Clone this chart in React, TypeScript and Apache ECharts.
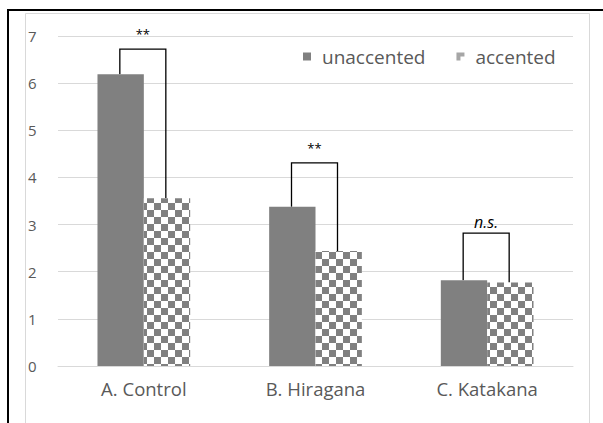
import React, { useEffect, useRef } from "react";
import * as echarts from "echarts";

const categories = ["A. Control", "B. Hiragana", "C. Katakana"];
const unaccented = [6.19, 3.38, 1.82];
const accented = [3.56, 2.44, 1.77];
const bracketTops = [6.72, 4.31, 2.82];
const bracketLabels = ["**", "**", "n.s."];
const yTicks = [0, 1, 2, 3, 4, 5, 6, 7];

const FONT = "Open Sans";
const TEXT = "#595959";
const GRAY = "#808080";

export default function App() {
  const ref = useRef<HTMLDivElement>(null);
  useEffect(() => {
    if (!ref.current) return;
    const chart = echarts.init(ref.current, undefined, { renderer: "svg" });
    const checker = {
      symbol: "rect",
      symbolSize: 1,
      color: GRAY,
      dashArrayX: [[6.5, 6.5], [0, 6.5, 6.5, 0]],
      dashArrayY: [6.5, 0],
      rotation: 0,
    };
    chart.setOption({
      animation: false,
      backgroundColor: "#fff",
      textStyle: { fontFamily: FONT },
      graphic: [
        {
          type: "rect",
          shape: { x: 25.5, y: 13.5, width: 564, height: 420 },
          style: { fill: "none", stroke: "#d9d9d9", lineWidth: 1 },
          silent: true,
        },
        {
          type: "line",
          shape: { x1: 8, y1: 10, x2: 603, y2: 10 },
          style: { stroke: "#000", lineWidth: 2 },
        },
        {
          type: "line",
          shape: { x1: 8, y1: 9, x2: 8, y2: 423 },
          style: { stroke: "#000", lineWidth: 2 },
        },
      ],
      legend: {
        data: [
          { name: "unaccented", icon: "rect" },
          {
            name: "accented",
            icon: "path://M4,0h4v4h-4zM0,4h4v4h-4zM0,0h4v4h-4z",
            itemStyle: { color: "#a6a6a6", decal: "none" },
          },
        ],
        left: 298,
        top: 42,
        itemWidth: 8,
        itemHeight: 8,
        itemGap: 31,
        textStyle: {
          color: TEXT,
          fontSize: 19,
          fontFamily: FONT,
          padding: [0, 0, 0, 6],
        },
      },
      grid: { left: 58, right: 30, top: 36, bottom: 57, containLabel: false },
      xAxis: {
        type: "category",
        data: categories,
        axisLine: { lineStyle: { color: "#d9d9d9" } },
        axisTick: { show: false },
        axisLabel: { color: TEXT, fontSize: 18.5, margin: 13, fontFamily: FONT },
      },
      yAxis: {
        type: "value",
        min: yTicks[0],
        max: yTicks[yTicks.length - 1],
        interval: 1,
        axisLine: { show: false },
        axisTick: { show: false },
        splitLine: { lineStyle: { color: "#d9d9d9" } },
        axisLabel: {
          color: TEXT,
          fontSize: 15,
          fontFamily: FONT,
          align: "left",
          margin: 30,
        },
      },
      series: [
        {
          name: "unaccented",
          type: "bar",
          data: unaccented,
          barWidth: "27%",
          barGap: "0%",
          itemStyle: { color: GRAY },
        },
        {
          name: "accented",
          type: "bar",
          data: accented,
          barWidth: "27%",
          itemStyle: { color: "#fff", decal: checker },
        },
        {
          name: "brackets",
          type: "custom",
          clip: false,
          silent: true,
          data: categories.map((_, i) => [i, unaccented[i], accented[i], bracketTops[i]]),
          encode: { x: 0, y: 3 },
          renderItem: (params: any, api: any) => {
            const i = api.value(0);
            const top = api.coord([i, api.value(3)]);
            const l = api.coord([i, api.value(1)]);
            const r = api.coord([i, api.value(2)]);
            const xl = top[0] - 24;
            const xr = top[0] + 22;
            const lbl = bracketLabels[params.dataIndex];
            const italic = lbl !== "**";
            return {
              type: "group",
              children: [
                {
                  type: "polyline",
                  shape: {
                    points: [
                      [xl, l[1]],
                      [xl, top[1]],
                      [xr, top[1]],
                      [xr, r[1]],
                    ],
                  },
                  style: { stroke: "#000", lineWidth: 1.3, fill: null },
                },
                {
                  type: "text",
                  x: (xl + xr) / 2,
                  y: top[1] - (italic ? 11 : 15),
                  style: {
                    text: lbl,
                    fill: "#000",
                    font: `${italic ? "italic " : ""}${italic ? 16 : 13}px ${FONT}`,
                    align: "center",
                    verticalAlign: "middle",
                  },
                },
              ],
            };
          },
        },
      ],
    });
    return () => chart.dispose();
  }, []);
  return (
    <div
      ref={ref}
      style={{ position: "fixed", left: 0, top: 0, width: 603, height: 423 }}
    />
  );
}
